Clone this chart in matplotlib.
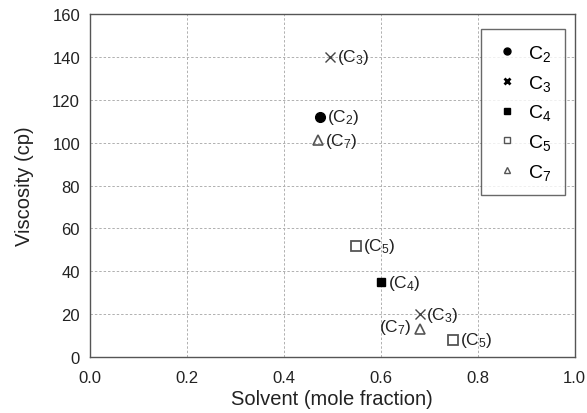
import matplotlib
matplotlib.use("Agg")
import matplotlib.pyplot as plt
from matplotlib.lines import Line2D

plt.rcParams["font.family"] = ["Liberation Sans", "DejaVu Sans"]
plt.rcParams["mathtext.fontset"] = "custom"
plt.rcParams["mathtext.rm"] = "Liberation Sans"
plt.rcParams["mathtext.it"] = "Liberation Sans"

# one entry per plotted point
solvent = [0.475, 0.495, 0.47, 0.55, 0.60, 0.68, 0.68, 0.75]
viscosity = [112, 140, 101, 52, 35, 20, 13, 8]
component = ["C2", "C3", "C7", "C5", "C4", "C3", "C7", "C5"]
label_side = ["right", "right", "right", "right", "right", "right", "left", "right"]

legend_order = ["C2", "C3", "C4", "C5", "C7"]

styles = {
    "C2": dict(marker="o", ms=7, mfc="black", mec="black", mew=1.0),
    "C3": dict(marker="x", ms=7, mfc="none", mec="#444444", mew=1.0),
    "C4": dict(marker="s", ms=6, mfc="black", mec="black", mew=1.0),
    "C5": dict(marker="s", ms=7.5, mfc="none", mec="#555555", mew=1.3),
    "C7": dict(marker="^", ms=7, mfc="none", mec="#555555", mew=1.2),
}
legend_styles = {
    "C2": dict(marker="o", ms=5, mfc="black", mec="black", mew=1.0),
    "C3": dict(marker="x", ms=5, mfc="none", mec="black", mew=2.0),
    "C4": dict(marker="s", ms=5, mfc="black", mec="black", mew=1.0),
    "C5": dict(marker="s", ms=5, mfc="none", mec="#555555", mew=1.0),
    "C7": dict(marker="^", ms=5, mfc="none", mec="#555555", mew=1.0),
}


def sub(name):
    return f"C$_{name[1:]}$"


fig, ax = plt.subplots(figsize=(5.87, 4.14), dpi=100)
fig.subplots_adjust(left=0.153, right=0.979, top=0.964, bottom=0.135)

for x, y, c, side in zip(solvent, viscosity, component, label_side):
    ax.plot([x], [y], linestyle="none", zorder=3, **styles[c])
    if side == "right":
        ax.annotate(f"({sub(c)})", (x, y), xytext=(5, 0), textcoords="offset points",
                    ha="left", va="center", fontsize=12.5, color="#222222")
    else:
        ax.annotate(f"({sub(c)})", (x, y), xytext=(-6, 2), textcoords="offset points",
                    ha="right", va="center", fontsize=12.5, color="#222222")

ax.set_xlim(0, 1.0)
ax.set_ylim(0, 160)
ax.set_xticks([0.0, 0.2, 0.4, 0.6, 0.8, 1.0])
ax.set_xticklabels(["0.0", "0.2", "0.4", "0.6", "0.8", "1.0"])
ax.set_yticks(range(0, 161, 20))
ax.tick_params(labelsize=12, colors="#222222", length=0)
ax.tick_params(axis="x", pad=9)
ax.tick_params(axis="y", pad=7)
ax.set_xlabel("Solvent (mole fraction)", fontsize=14.5, color="#222222", labelpad=3)
ax.set_ylabel("Viscosity (cp)", fontsize=14.5, color="#222222", labelpad=13)
ax.grid(True, linestyle=(0, (2.5, 2)), color="#b0b0b0", linewidth=0.7)
ax.set_axisbelow(True)
for s in ax.spines.values():
    s.set_color("#555555")
    s.set_linewidth(1.0)

handles = [Line2D([], [], linestyle="none", **legend_styles[c]) for c in legend_order]
leg = ax.legend(handles, [sub(c) for c in legend_order], loc="upper right",
                bbox_to_anchor=(0.98, 0.955), fontsize=14, frameon=True, fancybox=False,
                handlelength=1.2, handletextpad=0.5, labelspacing=0.5, borderpad=0.7,
                borderaxespad=0)
leg.get_frame().set_edgecolor("#444444")
leg.get_frame().set_linewidth(1.0)

fig.savefig("out.png", dpi=100)
